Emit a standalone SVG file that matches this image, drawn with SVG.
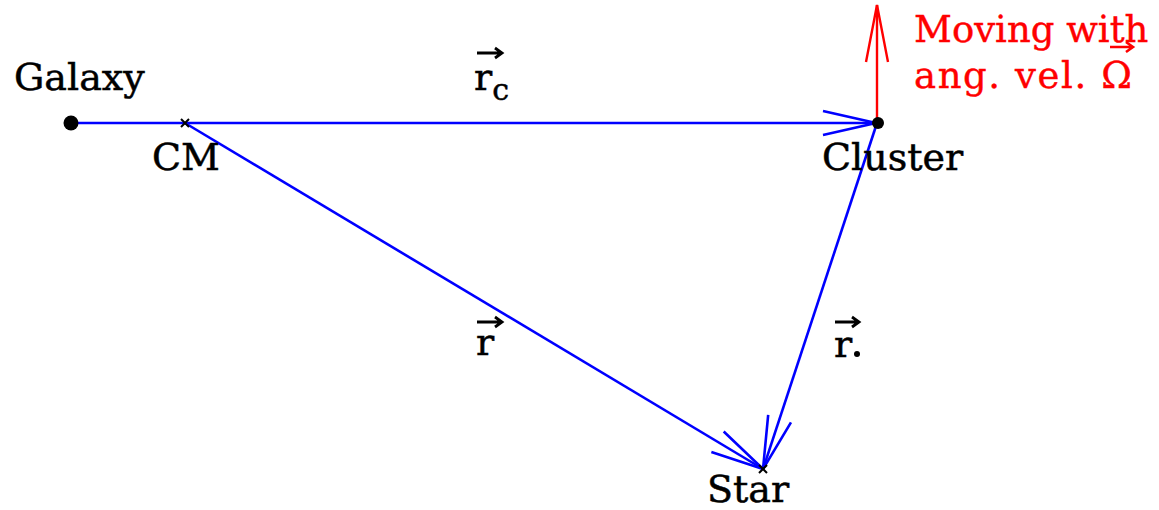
<svg xmlns="http://www.w3.org/2000/svg" width="1159" height="510" viewBox="0 0 1159 510">
<style>
.lbl{font-family:"DejaVu Serif","Liberation Serif",serif;font-size:38px;fill:#000;stroke:#000;stroke-width:0.5}
.red{font-family:"DejaVu Serif","Liberation Serif",serif;font-size:37px;fill:#ff0000;stroke:#ff0000;stroke-width:0.4}
.blue{stroke:#0000ff;stroke-width:2.6;fill:none}
.vec{stroke:#000;stroke-width:2.8;fill:none}
.vecr{stroke:#ff0000;stroke-width:2.6;fill:none}
</style>
<defs>
<marker id="ahb" viewBox="-56 -14 60 28" refX="0" refY="0" markerWidth="60" markerHeight="28" markerUnits="userSpaceOnUse" orient="auto">
<path d="M-53,-12 L0,0 L-53,12" fill="none" stroke="#0000ff" stroke-width="2.6"/>
</marker>
<marker id="ahr" viewBox="-60 -14 64 28" refX="0" refY="0" markerWidth="64" markerHeight="28" markerUnits="userSpaceOnUse" orient="auto">
<path d="M-57,-11 L0,0 L-57,11" fill="none" stroke="#ff0000" stroke-width="2.4"/>
</marker>
</defs>
<rect width="1159" height="510" fill="#fff"/>
<g id="connectors">
<line class="blue" x1="70" y1="123" x2="876" y2="123" marker-end="url(#ahb)"/>
<line class="blue" x1="185" y1="123" x2="763" y2="469" marker-end="url(#ahb)"/>
<line class="blue" x1="877" y1="123" x2="763" y2="469" marker-end="url(#ahb)"/>
<line x1="877" y1="122" x2="877" y2="5" stroke="#ff0000" stroke-width="2.4" marker-end="url(#ahr)"/>
</g>
<g id="galaxy">
<circle cx="71" cy="123" r="7.5" fill="#000"/>
<text class="lbl" x="14" y="90">Galaxy</text>
</g>
<g id="cm">
<path d="M181,119 L189,127 M189,119 L181,127" stroke="#000" stroke-width="2"/>
<text class="lbl" x="152" y="170">CM</text>
</g>
<g id="cluster">
<circle cx="878" cy="123" r="6" fill="#000"/>
<text class="lbl" x="822" y="170">Cluster</text>
</g>
<g id="star">
<path d="M759,465 L767,473 M767,465 L759,473" stroke="#000" stroke-width="2"/>
<text class="lbl" x="707" y="502">Star</text>
</g>
<g id="label-rc">
<path class="vec" d="M477,53 H501 M495,48 L502,53 L495,58"/>
<text class="lbl" x="474" y="90">r<tspan font-size="30" dy="10">c</tspan></text>
</g>
<g id="label-r">
<path class="vec" d="M477,322 H501 M495,317 L502,322 L495,327"/>
<text class="lbl" x="476" y="355">r</text>
</g>
<g id="label-rstar">
<path class="vec" d="M835,322 H858 M852,317 L859,322 L852,327"/>
<text class="lbl" x="834" y="357">r</text>
<circle cx="857" cy="354" r="3" fill="#000"/>
</g>
<g id="omega-label">
<text class="red" x="914" y="42">Moving with</text>
<text class="red" x="914" y="88" letter-spacing="1.6">ang. vel. Ω</text>
<path class="vecr" d="M1110,47 H1132 M1126,42 L1133,47 L1126,52"/>
</g>
</svg>
